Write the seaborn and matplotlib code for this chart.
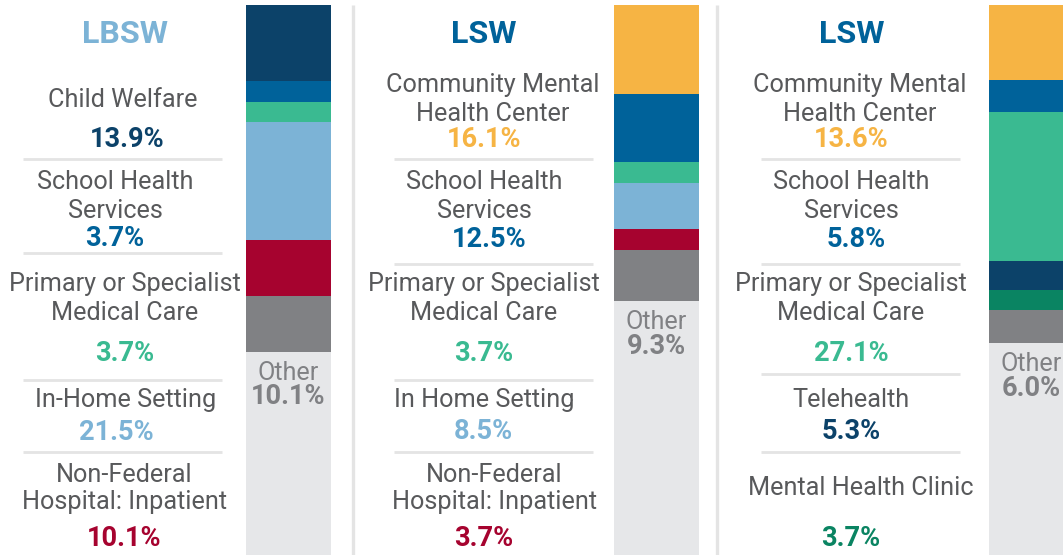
import matplotlib
matplotlib.use("Agg")
import matplotlib.pyplot as plt
import seaborn as sns
import numpy as np

# ---------------- data ----------------
panel_titles = ["LBSW", "LSW", "LSW"]

lbsw_labels = [["Child Welfare"], ["School Health", "Services"],
               ["Primary or Specialist", "Medical Care"], ["In-Home Setting"],
               ["Non-Federal", "Hospital: Inpatient"]]
lbsw_values = [13.9, 3.7, 3.7, 21.5, 10.1]
lbsw_other = 10.1

lsw1_labels = [["Community Mental", "Health Center"], ["School Health", "Services"],
               ["Primary or Specialist", "Medical Care"], ["In Home Setting"],
               ["Non-Federal", "Hospital: Inpatient"]]
lsw1_values = [16.1, 12.5, 3.7, 8.5, 3.7]
lsw1_other = 9.3

lsw2_labels = [["Community Mental", "Health Center"], ["School Health", "Services"],
               ["Primary or Specialist", "Medical Care"], ["Telehealth"],
               ["Mental Health Clinic"]]
lsw2_values = [13.6, 5.8, 27.1, 5.3, 3.7]
lsw2_other = 6.0

# ---------------- styles ----------------
NAVY = "#0c4269"
BLUE = "#00629a"
TEAL = "#3aba91"
LBLUE = "#7cb3d6"
RED = "#a6032f"
GRAY = "#808184"
YELLOW = "#f6b444"
DGREEN = "#0a8462"
BG = "#e6e7e9"
SEP = "#e4e4e4"
TXT = "#58595b"

lbsw_colors = [NAVY, BLUE, TEAL, LBLUE, RED]
lsw1_colors = [YELLOW, BLUE, TEAL, LBLUE, RED]
lsw2_colors = [YELLOW, BLUE, TEAL, NAVY, DGREEN]
title_colors = [LBLUE, BLUE, BLUE]

panels = [
    dict(labels=lbsw_labels, values=lbsw_values, other=lbsw_other, colors=lbsw_colors),
    dict(labels=lsw1_labels, values=lsw1_values, other=lsw1_other, colors=lsw1_colors),
    dict(labels=lsw2_labels, values=lsw2_values, other=lsw2_other, colors=lsw2_colors),
]

# ---------------- layout (pixels) ----------------
W, H = 1063, 555
bar_x0 = [246, 614, 989]
bar_w = 85
bar_top = 5
title_cx = [125, 484, 852]
title_base = 43
label_cx = [[123, 115, 125, 126, 124], [493, 484, 484, 484, 494], [860, 851, 851, 851, 861]]
pct_cx = [[127, 115, 125, 116, 124], [484, 489, 484, 483, 484], [851, 856, 851, 851, 851]]
label_base = [[[107], [189, 218], [291, 320], [407], [482, 509]],
              [[92, 121], [189, 218], [291, 320], [407], [482, 509]],
              [[92, 121], [189, 218], [291, 320], [407], [495]]]
pct_base = [[147, 246, 361, 440, 546],
            [147, 247, 361, 439, 546],
            [147, 247, 361, 439, 546]]
hline_y = [[159, 253, 380, 452], [159, 264, 380, 452], [159, 264, 374, 452]]
hline_x = [(23, 222), (394, 593), (761, 960)]
vsep_x = [353, 717]

sns.set_style("white")
plt.rcParams["font.family"] = ["Roboto", "DejaVu Sans"]

fig = plt.figure(figsize=(W / 100, H / 100), dpi=100)
fig.patch.set_facecolor("white")

LBL_FS = 18.2
PCT_FS = 19.6
TITLE_FS = 23.2

for i, p in enumerate(panels):
    ax = fig.add_axes([bar_x0[i] / W, 0, bar_w / W, (H - bar_top) / H])
    vals = list(p["values"]) + [p["other"]]
    cols = list(p["colors"]) + [GRAY]
    cum = np.cumsum(vals)
    sns.barplot(x=[0], y=[100], color=BG, width=1, saturation=1, linewidth=0, ax=ax)
    for k in range(len(vals) - 1, -1, -1):
        sns.barplot(x=[0], y=[cum[k]], color=cols[k], width=1, saturation=1,
                    linewidth=0, ax=ax)
    ax.set_xlim(-0.5, 0.5)
    ax.set_ylim(100, 0)
    ax.axis("off")
    ax.annotate("Other", xy=(0, cum[-1]), xytext=(0, -28 * 0.72), textcoords="offset points",
                ha="center", va="baseline", fontsize=LBL_FS, color=GRAY, annotation_clip=False)
    ax.annotate(f"{p['other']:.1f}%", xy=(0, cum[-1]), xytext=(0, -53 * 0.72),
                textcoords="offset points", ha="center", va="baseline", fontsize=PCT_FS,
                fontweight="bold", color=GRAY, annotation_clip=False)

axt = fig.add_axes([0, 0, 1, 1], zorder=5)
axt.set_xlim(0, W)
axt.set_ylim(H, 0)
axt.axis("off")
axt.patch.set_alpha(0)

for x in vsep_x:
    axt.plot([x, x], [bar_top, H], color=SEP, lw=2.4, solid_capstyle="butt")

for i, p in enumerate(panels):
    axt.text(title_cx[i], title_base, panel_titles[i], ha="center", va="baseline",
             fontsize=TITLE_FS, fontweight="bold", color=title_colors[i])
    for j, lines in enumerate(p["labels"]):
        for line, yb in zip(lines, label_base[i][j]):
            axt.text(label_cx[i][j], yb, line, ha="center", va="baseline",
                     fontsize=LBL_FS, color=TXT)
        axt.text(pct_cx[i][j], pct_base[i][j], f"{p['values'][j]:.1f}%", ha="center",
                 va="baseline", fontsize=PCT_FS, fontweight="bold", color=p["colors"][j])
    x0, x1 = hline_x[i]
    for y in hline_y[i]:
        axt.plot([x0, x1], [y, y], color=SEP, lw=2.0, solid_capstyle="butt")

fig.savefig("out.png", dpi=100)
